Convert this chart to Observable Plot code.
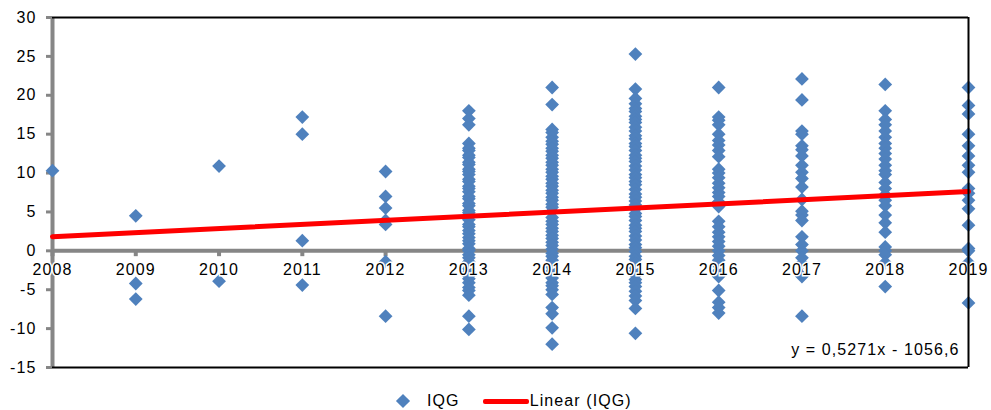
<!DOCTYPE html>
<html>
<head>
<meta charset="utf-8">
<script src="https://cdn.jsdelivr.net/npm/d3@7"></script>
<script src="https://cdn.jsdelivr.net/npm/@observablehq/plot@0.6"></script>
<style>
  body { margin: 0; background: #fff; font-family: "Liberation Sans", Arial, sans-serif; }
  #chart { position: relative; width: 991px; height: 410px; }
  .legend { position: absolute; left: 398px; top: 390px; height: 22px; display: flex; align-items: center; font-size: 16px; letter-spacing: 1.1px; color: #000; }
  .legend .sw-dot { width: 10px; height: 10px; background: #4F81BD; transform: rotate(45deg); margin-right: 19px; }
  .legend .sw-line { width: 46px; height: 5px; background: #ff0000; border-radius: 2px; margin-left: 23px; margin-right: 1px; }
</style>
</head>
<body>
<div id="chart"></div>
<script>
// Years on the x axis
const years = [2008, 2009, 2010, 2011, 2012, 2013, 2014, 2015, 2016, 2017, 2018, 2019];

// IQG observations, one list per year (aligned with `years`)
const iqgByYear = [
  [10.3],
  [4.5, -4.2, -6.2],
  [10.9, -3.9],
  [17.2, 15.0, 1.3, -4.4],
  [10.2, 7.0, 5.5, 3.9, 3.4, -1.4, -8.4],
  [18.0, 17.0, 16.2, 13.8, 13.2, 12.9, 12.3, 12.0, 11.4, 11.1, 10.5, 10.2, 9.8, 9.2, 8.9, 8.3, 8.0, 7.6, 7.0, 6.7, 6.1, 5.8, 5.2, 4.9, 4.5, 4.0, 3.4, 3.1, 2.6, 2.2, 1.7, 1.3, 0.9, 0.3, 0.0, -0.5, -0.9, -1.4, -1.8, -2.3, -2.7, -3.2, -3.6, -4.1, -4.7, -5.1, -5.7, -8.4, -10.1],
  [21.0, 18.8, 15.6, 15.2, 14.6, 14.1, 13.7, 13.2, 12.8, 12.3, 11.9, 11.4, 11.0, 10.5, 10.1, 9.6, 9.2, 8.7, 8.3, 7.8, 7.4, 6.9, 6.5, 6.0, 5.6, 5.1, 4.3, 3.8, 3.4, 2.9, 2.5, 2.0, 1.6, 1.1, 0.7, 0.2, -0.3, -0.7, -1.2, -1.6, -2.1, -2.6, -3.0, -3.5, -4.1, -4.5, -5.0, -5.6, -7.3, -8.1, -9.9, -12.0],
  [25.3, 20.8, 19.6, 18.9, 18.3, 17.9, 17.3, 16.9, 16.5, 15.9, 15.4, 14.8, 14.4, 13.8, 13.4, 12.9, 12.3, 11.9, 11.5, 10.9, 10.4, 9.8, 9.4, 8.9, 8.5, 7.9, 7.3, 6.9, 6.4, 5.9, 5.4, 4.8, 4.4, 3.9, 3.3, 2.9, 2.5, 1.9, 1.4, 0.8, 0.4, -0.1, -0.7, -1.1, -1.6, -2.2, -2.6, -3.1, -3.7, -4.1, -4.6, -5.2, -5.8, -6.4, -7.4, -10.6],
  [21.0, 17.2, 16.8, 16.2, 15.0, 14.2, 13.6, 12.9, 12.1, 10.5, 10.0, 9.4, 8.7, 8.1, 7.5, 7.0, 6.3, 5.7, 3.8, 3.1, 2.4, 1.8, 1.2, 0.6, 0.0, -0.6, -1.2, -1.9, -2.6, -3.3, -5.1, -6.6, -7.3, -8.0],
  [22.1, 19.4, 15.4, 15.0, 13.5, 13.0, 12.2, 11.0, 10.1, 9.3, 8.2, 6.6, 5.1, 4.6, 3.9, 1.8, 0.8, 0.0, -0.9, -1.6, -3.3, -8.4],
  [21.4, 18.0, 16.9, 16.2, 15.4, 14.6, 13.8, 13.2, 12.5, 11.8, 11.0, 10.3, 9.8, 8.8, 8.0, 7.2, 6.5, 5.8, 4.6, 3.6, 2.4, 0.5, 0.0, -0.5, -1.5, -4.6],
  [21.0, 18.7, 17.6, 15.0, 13.5, 12.2, 11.0, 10.1, 8.0, 7.4, 6.5, 5.4, 3.3, 0.3, 0.0, -1.5, -6.7]
];

// Linear trend as reported for the series
const trendSlope = 0.5271;
const trendIntercept = -1056.6;

const yTicks = [-15, -10, -5, 0, 5, 10, 15, 20, 25, 30];

const points = years.flatMap((year, i) => iqgByYear[i].map(v => ({year, value: v})));
const trend = [years[0], years[years.length - 1]].map(x => ({year: x, value: trendSlope * x + trendIntercept}));

const fmt = v => String(v).replace(".", ",");
const equation = `y = ${fmt(trendSlope)}x - ${fmt(-trendIntercept)}`;

const plot = Plot.plot({
  width: 991,
  height: 380,
  marginLeft: 52,
  marginRight: 23,
  marginTop: 17,
  marginBottom: 13,
  style: {fontFamily: "'Liberation Sans', Arial, sans-serif", fontSize: "16px", letterSpacing: "1.1px", color: "#000", background: "#fff", overflow: "visible"},
  x: {domain: [2008, 2019], axis: null},
  y: {domain: [-15, 30], axis: null},
  marks: [
    // y axis: gray ticks and labels
    Plot.axisY({ticks: yTicks, tickSize: 6, tickPadding: 10, stroke: "#868686", strokeWidth: 3, fill: "#000", fontSize: 16, label: null, tickFormat: d => String(d)}),
    Plot.ruleX([2008], {stroke: "#868686", strokeWidth: 4}),
    // zero line with small year ticks
    Plot.ruleY([0], {stroke: "#868686", strokeWidth: 4}),
    Plot.ruleX(years, {x: d => d, y1: 0, y2: -0.75, stroke: "#868686", strokeWidth: 4}),
    // frame on top and bottom
    Plot.ruleY([30], {stroke: "#000", strokeWidth: 2}),
    Plot.ruleY([-15], {stroke: "#000", strokeWidth: 2}),
    // observations
    Plot.dot(points, {x: "year", y: "value", symbol: "diamond2", r: 6.2, fill: "#4F81BD", stroke: "none"}),
    // trend line
    Plot.line(trend, {x: "year", y: "value", stroke: "#ff0000", strokeWidth: 5}),
    // year labels sit just under the zero line on a white ground
    Plot.text(years, {x: d => d, y: 0, text: d => String(d), dy: 19, fontSize: 16, fill: "#000", stroke: "#fff", strokeWidth: 3, strokeLinejoin: "miter"}),
    Plot.ruleX([2019], {stroke: "#000", strokeWidth: 2}),
    Plot.text([equation], {frameAnchor: "bottom-right", text: d => d, textAnchor: "end", lineAnchor: "middle", dx: -9, dy: -18, fontSize: 16, fill: "#000"})
  ]
});

const chart = document.getElementById("chart");
chart.appendChild(plot);

const legend = document.createElement("div");
legend.className = "legend";
legend.innerHTML = '<span class="sw-dot"></span><span>IQG</span><span class="sw-line"></span><span>Linear (IQG)</span>';
chart.appendChild(legend);
</script>
</body>
</html>
